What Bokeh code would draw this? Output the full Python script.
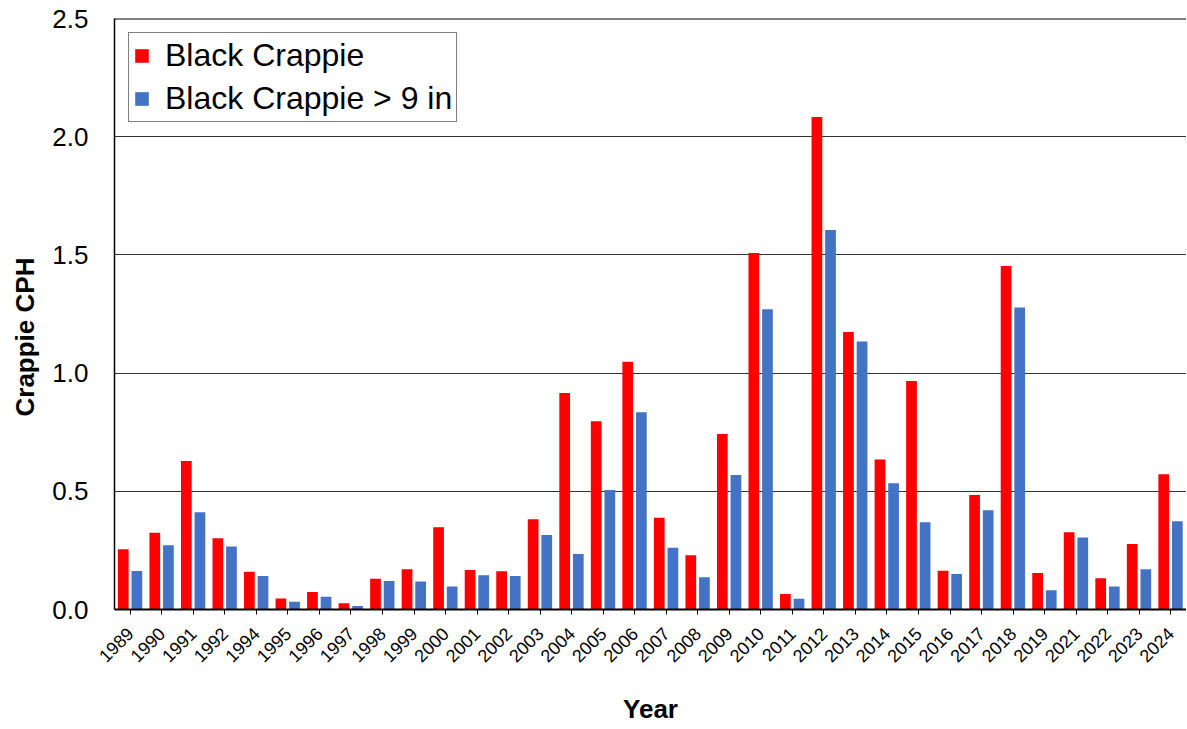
import math
from bokeh.plotting import figure
from bokeh.models import (ColumnDataSource, FactorRange, Range1d, Legend, LegendItem, Title,
                          Span, FixedTicker, CustomJSTickFormatter)
from bokeh.transform import dodge
from bokeh.embed import file_html
from bokeh.resources import INLINE

years = ["1989", "1990", "1991", "1992", "1994", "1995", "1996", "1997", "1998", "1999",
         "2000", "2001", "2002", "2003", "2004", "2005", "2006", "2007", "2008", "2009",
         "2010", "2011", "2012", "2013", "2014", "2015", "2016", "2017", "2018", "2019",
         "2021", "2022", "2023", "2024"]
black_crappie = [0.255, 0.325, 0.628, 0.301, 0.160, 0.047, 0.074, 0.026, 0.130, 0.170,
                 0.348, 0.167, 0.162, 0.382, 0.916, 0.796, 1.048, 0.388, 0.229, 0.742,
                 1.508, 0.066, 2.083, 1.174, 0.634, 0.967, 0.164, 0.484, 1.453, 0.154,
                 0.327, 0.132, 0.277, 0.572]
black_crappie_9in = [0.163, 0.272, 0.411, 0.267, 0.142, 0.033, 0.054, 0.015, 0.121, 0.118,
                     0.097, 0.145, 0.142, 0.315, 0.235, 0.505, 0.834, 0.261, 0.136, 0.569,
                     1.270, 0.046, 1.605, 1.134, 0.534, 0.369, 0.150, 0.420, 1.278, 0.081,
                     0.305, 0.097, 0.170, 0.373]
y_ticks = [0.0, 0.5, 1.0, 1.5, 2.0, 2.5]

src = ColumnDataSource(dict(year=years, bc=black_crappie, bc9=black_crappie_9in))

FONT = "Liberation Sans"

p = figure(x_range=FactorRange(factors=years), y_range=Range1d(0, 2.5),
           width=1186, height=728, output_backend="svg", toolbar_location=None,
           min_border_left=114, min_border_right=0, min_border_top=18, min_border_bottom=119)

r1 = p.vbar(x=dodge("year", -0.222, range=p.x_range), top="bc", width=0.34, bottom=0,
            source=src, fill_color="#FF0000", line_color=None)
r2 = p.vbar(x=dodge("year", 0.21, range=p.x_range), top="bc9", width=0.34, bottom=0,
            source=src, fill_color="#4472C4", line_color=None)

p.outline_line_color = None
p.background_fill_color = "white"
p.border_fill_color = "white"

# grid
p.xgrid.grid_line_color = None
p.ygrid.grid_line_color = "#333333"
p.ygrid.grid_line_width = 1
p.yaxis.ticker = FixedTicker(ticks=y_ticks)
p.yaxis.formatter = CustomJSTickFormatter(code="return tick.toFixed(1);")

top = Span(location=2.5, dimension="width", line_color="black", line_width=2)
p.add_layout(top)

# y axis
p.yaxis.axis_line_color = "black"
p.yaxis.axis_line_width = 1.5
p.yaxis.major_tick_line_color = None
p.yaxis.minor_tick_line_color = None
p.yaxis.major_label_text_font = FONT
p.yaxis.major_label_text_font_size = "26px"
p.yaxis.major_label_text_color = "black"
p.yaxis.major_label_standoff = 20

# x axis
p.xaxis.axis_line_color = "black"
p.xaxis.axis_line_width = 2
p.xaxis.major_tick_line_color = "black"
p.xaxis.major_tick_out = 5
p.xaxis.major_tick_in = 0
p.xaxis.major_label_orientation = math.pi / 4
p.xaxis.major_label_text_font = FONT
p.xaxis.major_label_text_font_size = "18px"
p.xaxis.major_label_text_color = "black"
p.xaxis.major_label_standoff = 16
p.xaxis.axis_label = "Year"
p.xaxis.axis_label_text_font = FONT
p.xaxis.axis_label_text_font_size = "26px"
p.xaxis.axis_label_text_font_style = "bold"
p.xaxis.axis_label_text_color = "black"
p.xaxis.axis_label_standoff = 23

# y axis title
p.add_layout(Title(text="Crappie CPH", align="left", offset=193, standoff=16,
                   vertical_align="top",
                   text_font=FONT, text_font_size="26px", text_font_style="bold",
                   text_color="black"), "left")

legend = Legend(items=[LegendItem(label="Black Crappie", renderers=[r1]),
                       LegendItem(label="Black Crappie > 9 in", renderers=[r2])],
                location="top_left")
legend.margin = 14
legend.padding = 4
legend.spacing = 6
legend.glyph_width = 17
legend.glyph_height = 17
legend.label_standoff = 15
legend.label_text_font = FONT
legend.label_text_font_size = "32px"
legend.label_text_color = "black"
legend.border_line_color = "black"
legend.border_line_width = 1.5
legend.background_fill_alpha = 1
p.add_layout(legend)

open("out.html", "w").write(file_html(p, INLINE))
